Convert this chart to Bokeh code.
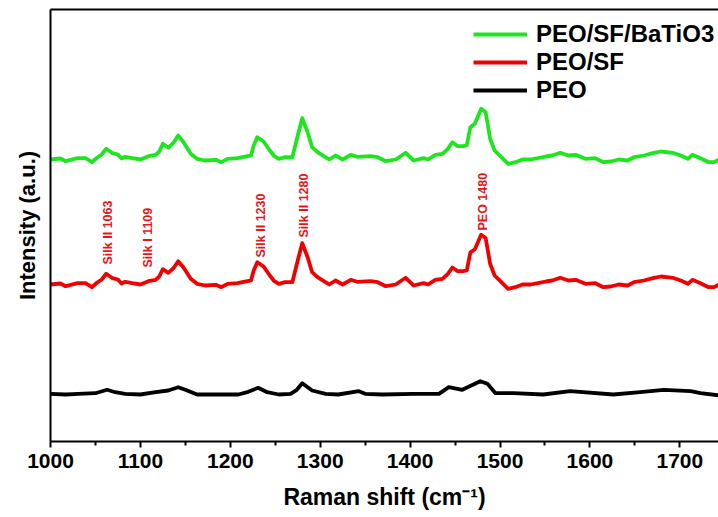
import numpy as np
from bokeh.plotting import figure
from bokeh.models import Legend, LegendItem, LinearAxis, FixedTicker, Range1d, ColumnDataSource
from bokeh.embed import file_html
from bokeh.resources import INLINE
from bokeh.core.properties import value

# ---------------- data ----------------
series_names = ["PEO/SF/BaTiO3", "PEO/SF", "PEO"]

green_x = [1000, 1011, 1017, 1030, 1039, 1046, 1052, 1057, 1062, 1069, 1075, 1079, 1083, 1091, 1100,
           1109, 1117, 1121, 1125, 1131, 1137, 1142, 1148, 1156, 1163, 1172, 1184, 1190, 1197, 1208,
           1219, 1223, 1226, 1230, 1237, 1244, 1249, 1254, 1261, 1269, 1275, 1280, 1286, 1291, 1297,
           1304, 1310, 1317, 1325, 1334, 1341, 1356, 1364, 1373, 1384, 1395, 1404, 1415, 1420, 1428,
           1436, 1442, 1447, 1453, 1459, 1463, 1467, 1472, 1479, 1484, 1489, 1494, 1499, 1509, 1517,
           1525, 1534, 1542, 1551, 1558, 1567, 1576, 1584, 1595, 1606, 1615, 1623, 1632, 1642, 1649,
           1660, 1671, 1679, 1692, 1701, 1709, 1714, 1723, 1732, 1738, 1745]
green_y = [1.0, 2.0, -0.7, 2.3, 2.3, -1.7, 3.0, 6.0, 11.7, 7.3, 6.0, 2.0, 3.7, 2.3, 1.0,
           4.3, 5.7, 9.0, 16.7, 12.7, 18.0, 25.0, 18.3, 6.7, 1.7, 0.0, 0.7, -1.7, 1.7, 2.3,
           4.3, 5.0, 15.0, 23.3, 19.0, 10.0, 4.3, 1.7, 3.3, 3.3, 25.0, 42.3, 28.3, 13.3, 8.3,
           4.3, 1.0, 5.0, 1.0, 5.7, 3.7, 4.3, 3.3, -0.7, 1.0, 7.7, 0.0, 2.3, 1.0, 5.7,
           6.7, 11.7, 18.3, 14.3, 14.3, 15.0, 33.3, 36.7, 51.7, 48.3, 21.7, 10.0, 5.7, -3.3, -1.7,
           1.0, 1.0, 2.3, 4.0, 5.0, 7.7, 5.0, 5.7, 1.7, 2.3, -1.7, -1.0, 1.0, 0.0, 3.3,
           5.0, 7.7, 9.0, 7.7, 5.0, 1.7, 5.7, 2.3, -1.7, -1.7, 1.7]

red_x = [1000, 1011, 1017, 1030, 1039, 1046, 1052, 1057, 1062, 1069, 1075, 1079, 1083, 1091, 1100,
         1109, 1117, 1121, 1125, 1131, 1137, 1142, 1148, 1156, 1163, 1172, 1184, 1190, 1197, 1208,
         1219, 1223, 1226, 1230, 1237, 1244, 1249, 1254, 1261, 1269, 1275, 1280, 1286, 1291, 1297,
         1304, 1310, 1317, 1325, 1334, 1341, 1356, 1364, 1373, 1384, 1395, 1404, 1415, 1420, 1428,
         1436, 1442, 1447, 1453, 1459, 1463, 1467, 1472, 1479, 1484, 1489, 1494, 1499, 1509, 1517,
         1525, 1534, 1542, 1551, 1558, 1567, 1576, 1584, 1595, 1606, 1615, 1623, 1632, 1642, 1649,
         1660, 1671, 1679, 1692, 1701, 1709, 1714, 1723, 1732, 1738, 1745]
red_y = [1.0, 2.0, -0.7, 2.3, 2.3, -1.7, 3.0, 6.0, 11.7, 7.3, 6.0, 2.0, 3.7, 2.3, 1.0,
         4.3, 5.7, 9.0, 16.3, 12.7, 17.5, 24.3, 18.0, 6.7, 1.7, 0.0, 0.7, -1.7, 1.7, 2.3,
         4.3, 5.0, 15.0, 23.3, 19.0, 10.0, 4.3, 1.7, 3.3, 3.3, 25.0, 42.3, 28.3, 13.3, 8.3,
         4.3, 1.0, 5.0, 1.0, 5.7, 3.7, 4.3, 3.3, -0.7, 1.0, 7.7, 0.0, 2.3, 1.0, 5.7,
         6.7, 11.7, 18.0, 14.3, 14.3, 15.0, 33.0, 36.3, 50.7, 47.5, 21.7, 10.0, 5.7, -3.3, -1.7,
         1.0, 1.0, 2.3, 4.0, 5.0, 7.7, 5.0, 5.7, 1.7, 2.3, -1.7, -1.0, 1.0, 0.0, 3.3,
         5.0, 7.7, 9.0, 7.7, 5.0, 1.7, 5.7, 2.3, -1.7, -1.7, 1.7]

black_x = [1000, 1017, 1031, 1050, 1063, 1072, 1083, 1100, 1117, 1131, 1142, 1150, 1163, 1187, 1209,
           1220, 1231, 1241, 1254, 1267, 1274, 1280, 1291, 1306, 1320, 1343, 1350, 1369, 1404, 1432,
           1443, 1458, 1478, 1486, 1495, 1515, 1548, 1578, 1626, 1656, 1682, 1712, 1723, 1745]
black_y = [0.0, -0.7, 0.0, 0.6, 4.0, 1.6, 0.0, -0.7, 1.6, 3.3, 6.6, 4.0, -0.7, -0.7, -0.7,
           2.0, 6.0, 1.6, -0.7, 0.0, 4.0, 10.6, 3.3, 0.0, -0.7, 2.6, 0.0, -0.7, 0.0, 0.0,
           6.6, 4.0, 12.6, 10.0, 0.6, 0.6, -0.7, 2.6, -0.7, 1.6, 4.0, 2.6, 0.6, -1.7]

# vertical offsets of the stacked spectra (a.u.)
offsets = [281.0, 156.0, 47.7]

ann_labels = ["Silk II 1063", "Silk I 1109", "Silk II 1230", "Silk II 1280", "PEO 1480"]
ann_x = [1064.5, 1109.0, 1233.6, 1282.5, 1481.6]
ann_y = [21.0, 18.0, 28.0, 48.0, 55.0]   # above the PEO/SF baseline

colors = ["#1EE61E", "#F00000", "#000000"]
FONT = "Liberation Sans"

# ---------------- figure ----------------
p = figure(width=718, height=517, output_backend="svg", toolbar_location=None,
           x_range=Range1d(1000, 1743), y_range=Range1d(0, 432),
           min_border_left=50, min_border_right=0, min_border_top=9, min_border_bottom=76)
p.grid.visible = False
p.outline_line_color = None
p.background_fill_color = "white"
p.border_fill_color = "white"

renderers = []
for xs, ys, off, col in zip([green_x, red_x, black_x], [green_y, red_y, black_y], offsets, colors):
    src = ColumnDataSource(dict(x=xs, y=np.array(ys) + off))
    r = p.line("x", "y", source=src, line_color=col, line_width=3.8, line_join="round")
    renderers.append(r)

# annotations
ann_src = ColumnDataSource(dict(x=ann_x, y=np.array(ann_y) + offsets[1], t=ann_labels))
p.text("x", "y", text="t", source=ann_src, angle=np.pi / 2, text_align="left",
       text_baseline="middle", text_color="#E8141A", text_font=value(FONT),
       text_font_style="bold", text_font_size="12.5px")

# x axis
xa = p.xaxis[0]
xa.ticker = FixedTicker(ticks=[1000, 1100, 1200, 1300, 1400, 1500, 1600, 1700],
                        minor_ticks=[1050, 1150, 1250, 1350, 1450, 1550, 1650])
xa.axis_label = "Raman shift (cm\u207b\u00b9)"
xa.axis_line_width = 2
xa.major_tick_line_width = 2
xa.minor_tick_line_width = 2
xa.major_tick_in = 0
xa.major_tick_out = 6
xa.minor_tick_in = 0
xa.minor_tick_out = 4
xa.major_label_text_font = FONT
xa.major_label_text_font_style = "bold"
xa.major_label_text_font_size = "21px"
xa.major_label_text_color = "black"
xa.major_label_standoff = 6
xa.axis_label_text_font = FONT
xa.axis_label_text_font_style = "bold"
xa.axis_label_text_font_size = "23px"
xa.axis_label_text_color = "black"
xa.axis_label_standoff = 13

# y axis
ya = p.yaxis[0]
ya.ticker = FixedTicker(ticks=[])
ya.major_tick_out = 0
ya.major_tick_in = 0
ya.minor_tick_out = 0
ya.axis_line_width = 2
ya.axis_label = "Intensity (a.u.)"
ya.axis_label_text_font = FONT
ya.axis_label_text_font_style = "bold"
ya.axis_label_text_font_size = "22px"
ya.axis_label_text_color = "black"
ya.axis_label_standoff = 11

# top frame line
top = LinearAxis(ticker=FixedTicker(ticks=[]), major_tick_out=0, major_tick_in=0,
                 minor_tick_out=0, axis_line_width=2, major_label_text_font_size="0px")
p.add_layout(top, "above")

# legend
legend = Legend(items=[LegendItem(label=n, renderers=[r]) for n, r in zip(series_names, renderers)],
                location=(423, 337), orientation="vertical",
                label_text_font=FONT, label_text_font_style="bold", label_text_font_size="24px",
                label_text_color="black",
                glyph_width=54, glyph_height=20, label_height=20, label_standoff=9,
                spacing=0, padding=0, margin=0, border_line_color=None,
                background_fill_alpha=0)
p.add_layout(legend)

open("out.html", "w").write(file_html(p, INLINE))
